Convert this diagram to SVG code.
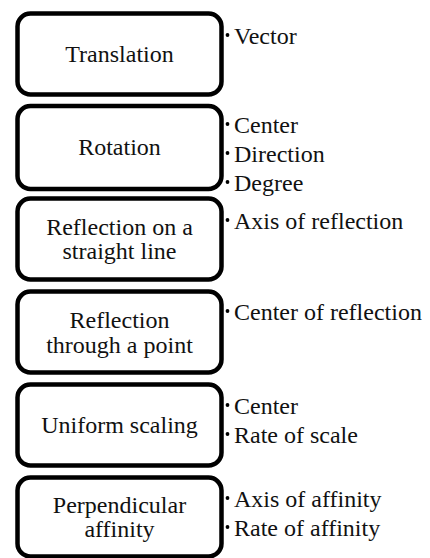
<svg xmlns="http://www.w3.org/2000/svg" width="430" height="558" viewBox="0 0 430 558">
<style>
.box{fill:#fff;stroke:#000;stroke-width:4.5}
.c{text-anchor:middle}
.b{fill:#000}
</style>
<rect width="430" height="558" fill="#fff"/>
<g id="connectors"></g>
<g font-family="Liberation Serif, Times New Roman, serif" font-size="24" fill="#111">
<g id="n1">
<rect class="box" x="17.5" y="13.5" width="204" height="81" rx="13"/>
<text class="c" x="119.5" y="62">Translation</text>
<circle class="b" cx="227.5" cy="35" r="1.9"/>
<text x="234" y="44">Vector</text>
</g>
<g id="n2">
<rect class="box" x="17.5" y="106" width="204" height="83" rx="13"/>
<text class="c" x="119.5" y="155">Rotation</text>
<circle class="b" cx="227.5" cy="124" r="1.9"/>
<text x="234" y="133">Center</text>
<circle class="b" cx="227.5" cy="153" r="1.9"/>
<text x="234" y="162">Direction</text>
<circle class="b" cx="227.5" cy="182" r="1.9"/>
<text x="234" y="191">Degree</text>
</g>
<g id="n3">
<rect class="box" x="17.5" y="198.5" width="204" height="81" rx="13"/>
<text class="c" x="119.5" y="235">Reflection on a</text>
<text class="c" x="119.5" y="259">straight line</text>
<circle class="b" cx="227.5" cy="220" r="1.9"/>
<text x="234" y="229">Axis of reflection</text>
</g>
<g id="n4">
<rect class="box" x="17.5" y="291.5" width="204" height="81" rx="13"/>
<text class="c" x="119.5" y="328">Reflection</text>
<text class="c" x="119.5" y="353">through a point</text>
<circle class="b" cx="227.5" cy="311" r="1.9"/>
<text x="234" y="320">Center of reflection</text>
</g>
<g id="n5">
<rect class="box" x="17.5" y="384.5" width="204" height="81" rx="13"/>
<text class="c" x="119.5" y="433">Uniform scaling</text>
<circle class="b" cx="227.5" cy="405" r="1.9"/>
<text x="234" y="414">Center</text>
<circle class="b" cx="227.5" cy="434" r="1.9"/>
<text x="234" y="443">Rate of scale</text>
</g>
<g id="n6">
<rect class="box" x="17.5" y="477.5" width="204" height="79" rx="13"/>
<text class="c" x="119.5" y="513">Perpendicular</text>
<text class="c" x="119.5" y="537">affinity</text>
<circle class="b" cx="227.5" cy="498" r="1.9"/>
<text x="234" y="507">Axis of affinity</text>
<circle class="b" cx="227.5" cy="527" r="1.9"/>
<text x="234" y="536">Rate of affinity</text>
</g>
</g>
</svg>
